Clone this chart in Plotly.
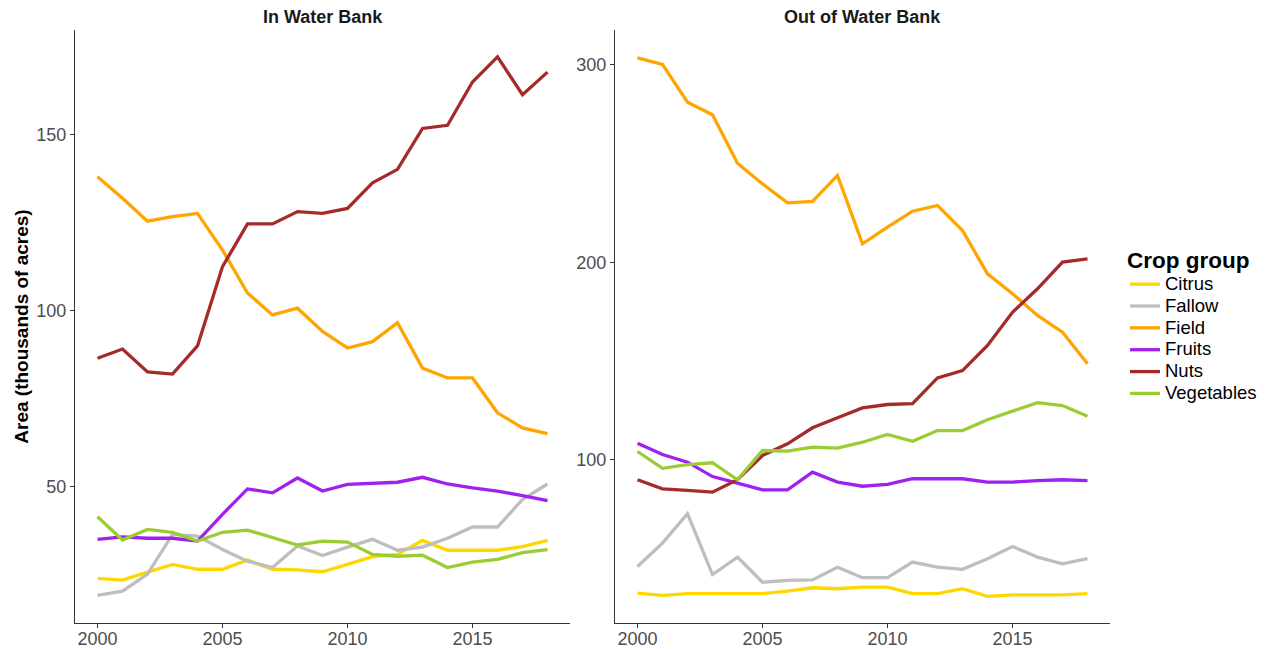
import plotly.graph_objects as go
from plotly.subplots import make_subplots

years = list(range(2000, 2019))
crop_groups = ["Citrus", "Fallow", "Field", "Fruits", "Nuts", "Vegetables"]
colors = {"Citrus": "#FFD700", "Fallow": "#BEBEBE", "Field": "#FFA500",
          "Fruits": "#A020F0", "Nuts": "#A52A2A", "Vegetables": "#9ACD32"}

# In Water Bank (thousands of acres)
in_citrus = [24.0, 23.5, 25.8, 28.0, 26.6, 26.6, 29.2, 26.6, 26.4, 25.9, 28.0, 30.2, 30.8, 34.8, 32.0, 32.0, 32.0, 33.0, 34.8]
in_fallow = [19.2, 20.4, 25.2, 36.5, 36.0, 32.2, 28.9, 27.1, 33.2, 30.5, 32.9, 35.1, 32.0, 32.9, 35.4, 38.6, 38.6, 46.4, 50.8]
in_field = [138.0, 131.9, 125.4, 126.7, 127.6, 117.2, 105.0, 98.8, 100.7, 94.1, 89.4, 91.2, 96.6, 83.7, 80.9, 80.9, 71.0, 66.7, 65.1]
in_fruits = [35.1, 35.8, 35.4, 35.4, 34.6, 42.2, 49.4, 48.3, 52.5, 48.8, 50.7, 51.1, 51.3, 52.7, 50.8, 49.7, 48.8, 47.5, 46.1]
in_nuts = [86.5, 89.1, 82.6, 82.0, 90.0, 112.5, 124.6, 124.6, 128.1, 127.6, 129.0, 136.3, 140.1, 151.7, 152.6, 164.9, 172.0, 161.3, 167.7]
in_veg = [41.5, 34.9, 37.9, 37.1, 34.6, 37.1, 37.7, 35.6, 33.5, 34.6, 34.3, 30.8, 30.3, 30.6, 27.1, 28.6, 29.4, 31.3, 32.2]

# Out of Water Bank (thousands of acres)
out_citrus = [32.5, 31.3, 32.2, 32.2, 32.2, 32.2, 33.5, 35.2, 34.7, 35.5, 35.5, 32.2, 32.2, 34.7, 30.8, 31.6, 31.6, 31.6, 32.2]
out_fallow = [46.0, 57.8, 72.7, 41.9, 50.7, 38.0, 38.9, 39.2, 45.6, 40.3, 40.3, 48.2, 45.6, 44.5, 49.9, 56.1, 50.7, 47.3, 49.9]
out_field = [303.5, 300.2, 281.1, 274.7, 250.2, 239.7, 230.1, 230.8, 244.0, 209.4, 217.8, 225.9, 228.8, 216.1, 194.2, 184.1, 173.1, 164.6, 148.6]
out_fruits = [108.4, 102.7, 98.8, 91.5, 88.2, 84.8, 84.8, 93.7, 88.7, 86.6, 87.5, 90.4, 90.4, 90.4, 88.7, 88.7, 89.5, 89.9, 89.5]
out_nuts = [89.9, 85.3, 84.5, 83.6, 89.9, 102.2, 108.1, 116.2, 121.3, 126.3, 128.0, 128.4, 141.5, 145.2, 157.9, 174.7, 186.6, 200.1, 201.8]
out_veg = [104.2, 95.7, 97.5, 98.5, 89.9, 104.7, 104.4, 106.4, 105.9, 108.9, 112.8, 109.4, 114.8, 114.8, 120.3, 124.6, 128.9, 127.5, 122.1]

panels = ["In Water Bank", "Out of Water Bank"]
in_series = [in_citrus, in_fallow, in_field, in_fruits, in_nuts, in_veg]
out_series = [out_citrus, out_fallow, out_field, out_fruits, out_nuts, out_veg]

FONT = "Arial, Liberation Sans, sans-serif"
W, H = 1265, 649

fig = make_subplots(rows=1, cols=2)
for col, series in ((1, in_series), (2, out_series)):
    for name, vals in zip(crop_groups, series):
        fig.add_trace(go.Scatter(
            x=years, y=vals, mode="lines",
            name='<span style="font-size:18.5px">%s</span>' % name,
            hovertemplate=name + ": %{y}<extra></extra>",
            line=dict(color=colors[name], width=3.3),
            legendgroup=name, showlegend=(col == 1),
        ), row=1, col=col)

def px_x(p):
    return p / W

def px_y(p):
    return 1 - p / H

ydom = [px_y(623), px_y(30)]
axis_common = dict(
    showgrid=False, zeroline=False, showline=True, linecolor="#333333", linewidth=1.1,
    ticks="outside", ticklen=4, tickcolor="#333333", tickwidth=1.1,
    tickfont=dict(family=FONT, size=18, color="#4D4D4D"),
)
fig.update_xaxes(**axis_common, tickvals=[2000, 2005, 2010, 2015], range=[1999.1, 2018.9],
                 ticklabelstandoff=-5)
fig.update_yaxes(**axis_common)
fig.update_layout(
    xaxis=dict(domain=[px_x(75), px_x(570)]),
    xaxis2=dict(domain=[px_x(615), px_x(1110)]),
    yaxis=dict(domain=ydom, range=[11.35, 179.65], tickvals=[50, 100, 150],
               title=dict(text="Area (thousands of acres)", standoff=2,
                          font=dict(family=FONT, size=19, color="black", weight="bold"))),
    yaxis2=dict(domain=ydom, range=[17.35, 317.65], tickvals=[100, 200, 300]),
)

for i, t in enumerate(panels):
    cx = (75 + 570) / 2 if i == 0 else (615 + 1110) / 2
    fig.add_annotation(text=t, x=px_x(cx), y=px_y(17), xref="paper", yref="paper",
                       xanchor="center", yanchor="middle", showarrow=False,
                       font=dict(family=FONT, size=18, color="#1A1A1A", weight="bold"))

fig.update_layout(
    width=W, height=H, autosize=False,
    margin=dict(l=0, r=0, t=0, b=0, autoexpand=False),
    paper_bgcolor="white", plot_bgcolor="white",
    font=dict(family=FONT),
    legend=dict(
        x=px_x(1125), y=px_y(239), xanchor="left", yanchor="top",
        title=dict(text="Crop group", font=dict(family=FONT, size=22.5, color="black", weight="bold")),
        font=dict(family=FONT, size=14.5, color="black"),
        bgcolor="rgba(0,0,0,0)", itemwidth=30, tracegroupgap=0,
    ),
)

fig.write_html("out.html", config={"displayModeBar": False},
               post_script="document.body.style.margin='0px';")
